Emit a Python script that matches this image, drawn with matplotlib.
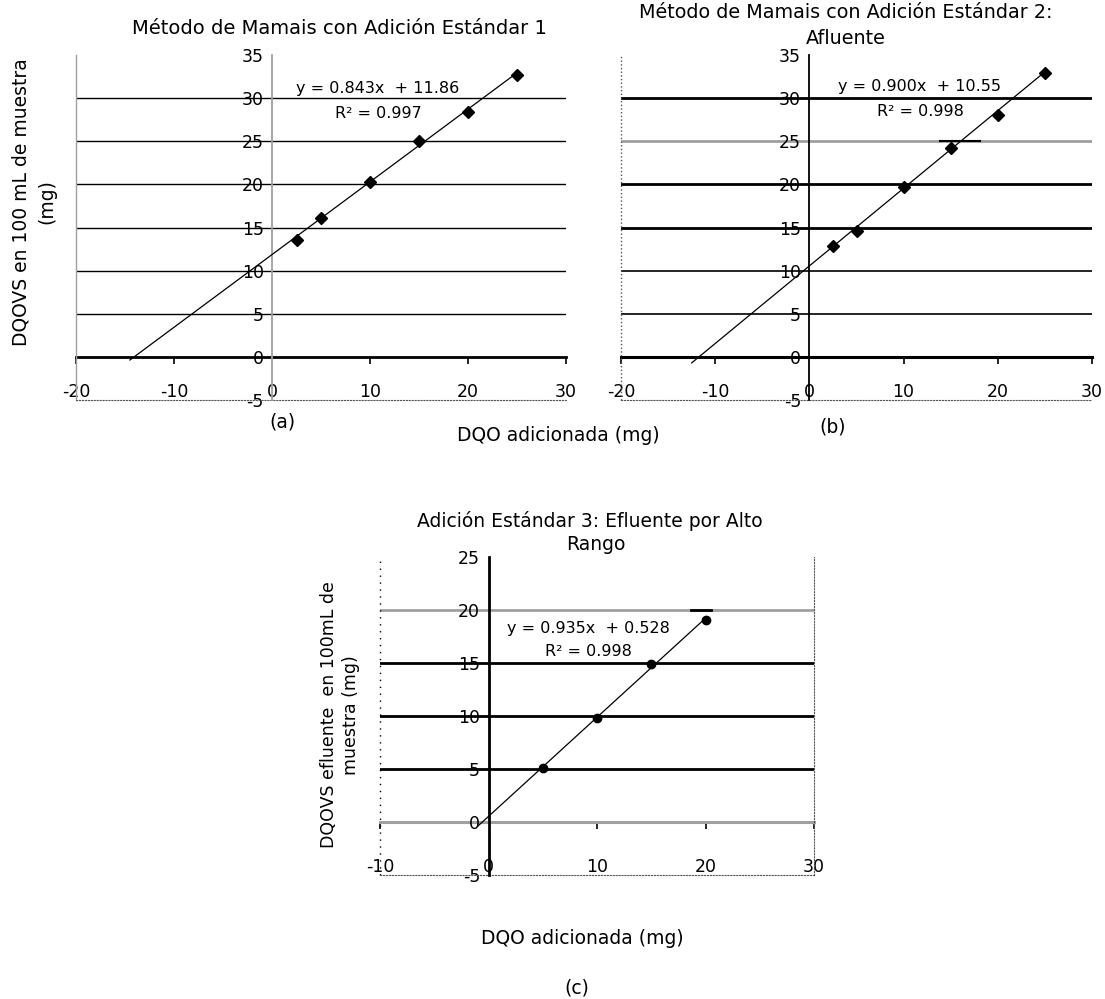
import matplotlib
matplotlib.use("Agg")
import matplotlib.pyplot as plt
import numpy as np

plt.rcParams['font.family'] = ['DejaVu Sans']
plt.rcParams['axes.unicode_minus'] = False

# ---------------- data ----------------
xa = [2.5, 5, 10, 15, 20, 25]
ya = [13.5, 16.1, 20.3, 25.0, 28.4, 32.7]
slope_a, icpt_a = 0.843, 11.86
r2_a = 0.997
trend_range_a = (-14.5, 25)

xb = [2.5, 5, 10, 15, 20, 25]
yb = [12.8, 14.6, 19.7, 24.2, 28.1, 32.9]
slope_b, icpt_b = 0.900, 10.55
r2_b = 0.998
trend_range_b = (-12.5, 25)

xc = [5, 10, 15, 20]
yc = [5.1, 9.8, 14.9, 19.1]
slope_c, icpt_c = 0.935, 0.528
r2_c = 0.998
trend_range_c = (-1.0, 20)

xticks_ab = [-20, -10, 0, 10, 20, 30]
yticks_ab = [-5, 0, 5, 10, 15, 20, 25, 30, 35]
xticks_c = [-10, 0, 10, 20, 30]
yticks_c = [-5, 0, 5, 10, 15, 20, 25]

# short horizontal segments seen on gridlines (x0, x1, y)
seg_b = (13.9, 18.1, 25)
seg_c = (18.7, 20.5, 20)

title_a = "Método de Mamais con Adición Estándar 1"
title_b = ["Método de Mamais con Adición Estándar 2:", "Afluente"]
title_c = ["Adición Estándar 3: Efluente por Alto", "Rango"]
ylabel_a = "DQOVS en 100 mL de muestra\n(mg)"
ylabel_c = "DQOVS efluente  en 100mL de\nmuestra (mg)"
xlabel = "DQO adicionada (mg)"

W, H = 1105, 999
fig = plt.figure(figsize=(W / 100, H / 100), dpi=100)


def rect(l, r, t, b):
    return [l / W, 1 - b / H, (r - l) / W, (b - t) / H]


GRAY = '#a0a0a0'
BLACK = 'black'


def setup(ax, xlim, ylim, xticks, yticks, grid_style, yaxis_color, yaxis_lw,
          xaxis_color, xaxis_lw, border, tick_fs=12.5, xpad=-12):
    ax.set_xlim(*xlim)
    ax.set_ylim(*ylim)
    # y axis crossing at x = 0
    ax.spines['left'].set_position(('data', 0))
    ax.spines['left'].set_color(yaxis_color)
    ax.spines['left'].set_linewidth(yaxis_lw)
    ax.spines['left'].set_zorder(3)
    for s in ['top', 'right', 'bottom']:
        ax.spines[s].set_visible(s in border)
        ax.spines[s].set_linestyle(':')
        ax.spines[s].set_color('#555555')
        ax.spines[s].set_linewidth(0.8)
    ax.set_xticks(xticks)
    ax.set_yticks(yticks)
    ax.tick_params(axis='x', length=0, pad=xpad, labelsize=tick_fs)
    ax.tick_params(axis='y', length=0, pad=6, labelsize=tick_fs)
    # horizontal gridlines
    for yv, (col, lw) in grid_style.items():
        ax.axhline(yv, color=col, lw=lw, zorder=1)
    # x axis line at y = 0 with ticks
    sec = ax.secondary_xaxis(0, transform=ax.transData)
    sec.set_xticks([t for t in xticks if t != 0])
    sec.tick_params(axis='x', direction='out', length=5, width=1.2,
                    labelbottom=False, color=BLACK)
    sec.spines['bottom'].set_color(xaxis_color)
    sec.spines['bottom'].set_linewidth(xaxis_lw)
    # left border of plot area
    if 'leftborder' in border:
        col, ls = border['leftborder']
        ax.plot([0, 0], [0, 1], transform=ax.transAxes, color=col, ls=ls,
                lw=1.0, clip_on=False)


# ---------------- panel (a) ----------------
axa = fig.add_axes(rect(76, 566, 55, 400))
grid_a = {v: (BLACK, 1.0) for v in [5, 10, 15, 20, 25, 30]}
setup(axa, (-20, 30), (-5, 35), xticks_ab, yticks_ab, grid_a, GRAY, 1.3,
      BLACK, 2.0, {'bottom': 1, 'leftborder': (GRAY, '-')})
tx = np.linspace(*trend_range_a, 50)
axa.plot(tx, np.polyval([slope_a, icpt_a], tx), color=BLACK, lw=0.9, zorder=4)
axa.plot(xa, ya, 'D', color=BLACK, ms=6, zorder=5)

# ---------------- panel (b) ----------------
axb = fig.add_axes(rect(621, 1092, 55, 400))
grid_b = {30: (BLACK, 2.0), 25: (GRAY, 2.0), 20: (BLACK, 2.0),
          15: (BLACK, 2.0), 10: (BLACK, 1.2), 5: (BLACK, 1.2)}
setup(axb, (-20, 30), (-5, 35), xticks_ab, yticks_ab, grid_b, BLACK, 1.3,
      BLACK, 2.2, {'bottom': 1, 'leftborder': ('#555555', ':')})
tx = np.linspace(*trend_range_b, 50)
axb.plot(tx, np.polyval([slope_b, icpt_b], tx), color=BLACK, lw=0.9, zorder=4)
axb.plot(xb, yb, 'D', color=BLACK, ms=6, zorder=5)
axb.plot(seg_b[:2], [seg_b[2]] * 2, color=BLACK, lw=1.5, zorder=4)

# ---------------- panel (c) ----------------
axc = fig.add_axes(rect(380, 814, 557, 875))
grid_c = {20: (GRAY, 2.0), 15: (BLACK, 2.0), 10: (BLACK, 2.0), 5: (BLACK, 2.0)}
setup(axc, (-10, 30), (-5, 25), xticks_c, yticks_c, grid_c, BLACK, 2.0,
      GRAY, 2.2, {'bottom': 1, 'right': 1, 'leftborder': (BLACK, (0, (1, 4)))})
tx = np.linspace(*trend_range_c, 50)
axc.plot(tx, np.polyval([slope_c, icpt_c], tx), color=BLACK, lw=0.9, zorder=4)
axc.plot(xc, yc, 'o', color=BLACK, ms=6, zorder=5)
axc.plot(seg_c[:2], [seg_c[2]] * 2, color=BLACK, lw=2.0, zorder=4)


# ---------------- texts ----------------
def ftext(x, y, s, **kw):
    fig.text(x / W, 1 - y / H, s, ha='center', va='center', **kw)


ftext(339, 28, title_a, fontsize=14)
ftext(846, 13, title_b[0], fontsize=13.8)
ftext(846, 38, title_b[1], fontsize=13.8)
ftext(590, 521, title_c[0], fontsize=13.5)
ftext(596, 545, title_c[1], fontsize=13.5)

ftext(378, 89, f"y = {slope_a:.3f}x  + {icpt_a:.2f}", fontsize=11.5)
ftext(378, 113, f"R² = {r2_a:.3f}", fontsize=11.5)
ftext(920, 87, f"y = {slope_b:.3f}x  + {icpt_b:.2f}", fontsize=11.5)
ftext(920, 112, f"R² = {r2_b:.3f}", fontsize=11.5)
ftext(588, 628, f"y = {slope_c:.3f}x  + {icpt_c:.3f}", fontsize=11.5)
ftext(588, 651, f"R² = {r2_c:.3f}", fontsize=11.5)

ftext(34, 202, ylabel_a, fontsize=13.5, rotation=90, linespacing=1.45)
ftext(340, 715, ylabel_c, fontsize=12.5, rotation=90, linespacing=1.3)

ftext(558, 435, xlabel, fontsize=13.5)
ftext(282, 422, "(a)", fontsize=13.5)
ftext(833, 427, "(b)", fontsize=13.5)
ftext(582, 938, xlabel, fontsize=13.5)
ftext(577, 988, "(c)", fontsize=13.5)

fig.savefig("out.png", dpi=100)
